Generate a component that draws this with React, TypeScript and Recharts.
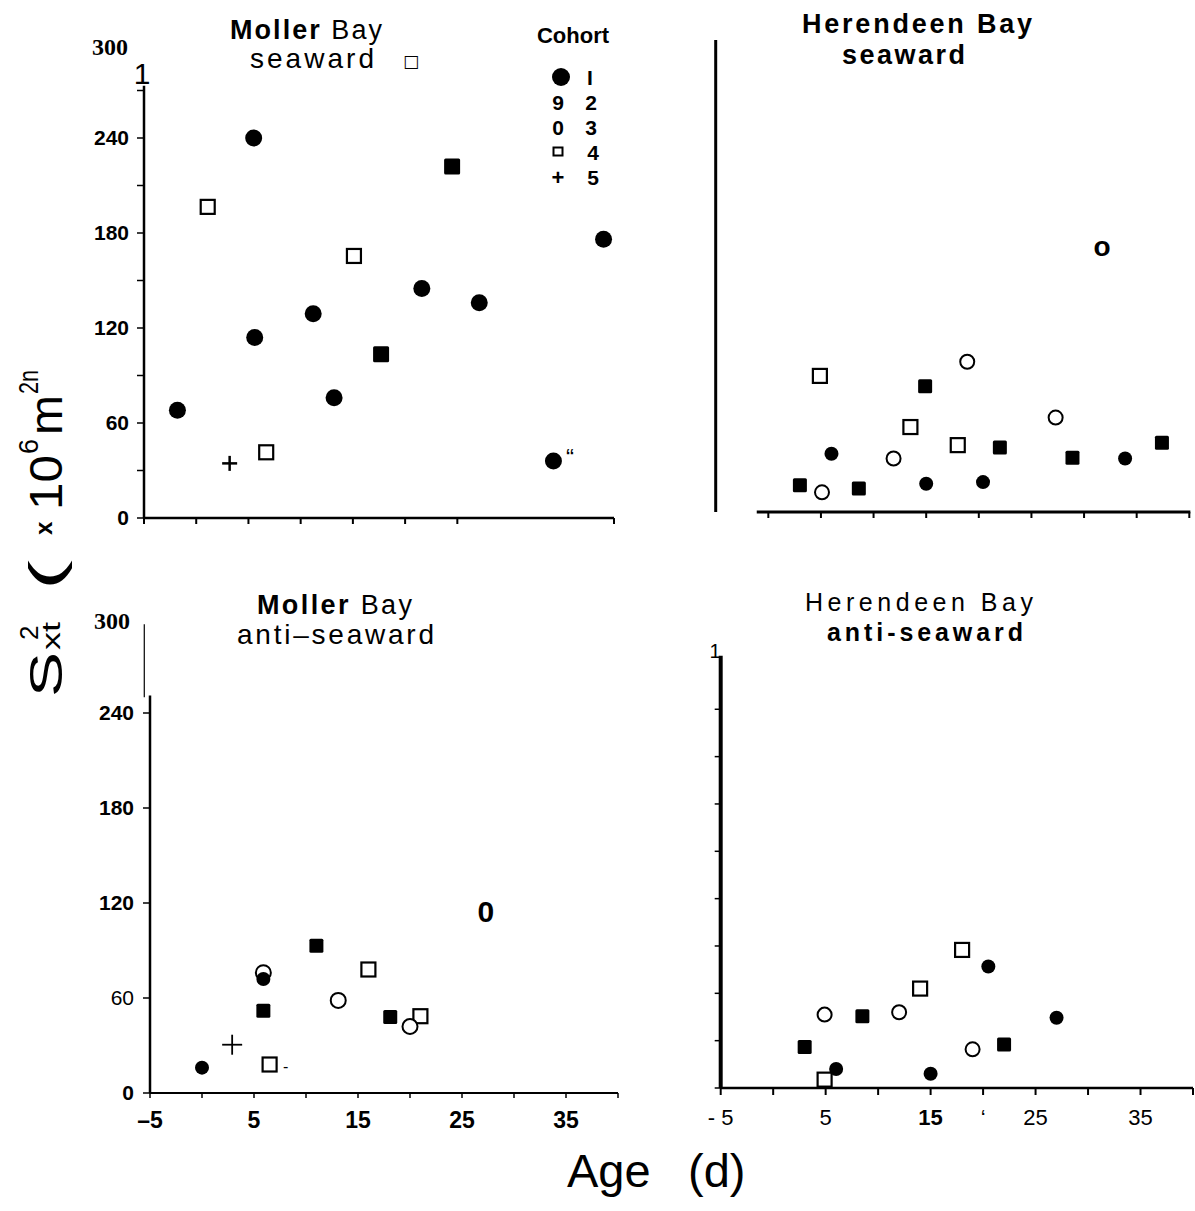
// App.tsx – variance of larval dispersal vs age, four bay panels

import { ScatterChart, Scatter, XAxis, YAxis, ReferenceLine } from "recharts"

type Pt = { x: number; y: number }

const SANS = "'Liberation Sans', Arial, sans-serif"
const SERIF = "'Liberation Serif', 'Times New Roman', serif"

// Age ticks (d) and variance ticks (x10^6 m^2)
const ageTicks = [-5, 0, 5, 10, 15, 20, 25, 30, 35, 40]
const ageTicksTopLeft = [-5, 0, 5, 10, 15, 20, 25, 40]
const ageTicksTopRight = [0, 5, 10, 15, 20, 25, 30, 35, 40]
const varTicksMinor = [0, 30, 60, 90, 120, 150, 180, 210, 240, 270]
const varTicksMajor = [0, 60, 120, 180, 240]
const varTicksRight = [0, 30, 60, 90, 120, 150, 180, 210, 240]
const ageLabelsLeft: Record<number, string> = { [-5]: "–5", 5: "5", 15: "15", 25: "25", 35: "35" }
const ageLabelsRight: Record<number, string> = { [-5]: "- 5", 5: "5", 15: "15", 20: "‘", 25: "25", 35: "35" }

// Moller Bay seaward (cohort 1 = filled circle, 2 = filled square, 3 = open circle, 4 = open square, 5 = cross)
const mollerSeaC1: Pt[] = [
  { x: -1.8, y: 68 }, { x: 5.5, y: 240 }, { x: 5.6, y: 114 }, { x: 11.2, y: 129 },
  { x: 13.2, y: 76 }, { x: 21.6, y: 145 }, { x: 27.1, y: 136 }, { x: 34.2, y: 36 },
  { x: 39.0, y: 176 },
]
const mollerSeaC2: Pt[] = [{ x: 17.7, y: 103.5 }, { x: 24.5, y: 222 }]
const mollerSeaC4: Pt[] = [{ x: 1.1, y: 196.5 }, { x: 6.7, y: 41.5 }, { x: 15.1, y: 165.5 }]
const mollerSeaC5: Pt[] = [{ x: 3.2, y: 34.5 }]

// Herendeen Bay seaward
const herSeaC1: Pt[] = [{ x: 6.0, y: 37 }, { x: 15.0, y: 18 }, { x: 20.4, y: 19 }, { x: 33.9, y: 34 }]
const herSeaC2: Pt[] = [
  { x: 3.0, y: 17 }, { x: 8.6, y: 15 }, { x: 14.9, y: 80 },
  { x: 22.0, y: 41 }, { x: 28.9, y: 34.5 }, { x: 37.4, y: 44 },
]
const herSeaC3: Pt[] = [{ x: 5.1, y: 12.5 }, { x: 11.9, y: 34 }, { x: 18.9, y: 95.5 }, { x: 27.3, y: 60 }]
const herSeaC3Bold: Pt[] = [{ x: 31.7, y: 169 }]
const herSeaC4: Pt[] = [{ x: 4.9, y: 86.5 }, { x: 13.5, y: 54 }, { x: 18.0, y: 42.5 }]

// Moller Bay anti-seaward
const mollerAntiC1: Pt[] = [{ x: 0, y: 16 }, { x: 5.9, y: 72 }]
const mollerAntiC2: Pt[] = [{ x: 5.9, y: 52 }, { x: 11.0, y: 93 }, { x: 18.1, y: 48 }]
const mollerAntiC3: Pt[] = [{ x: 5.9, y: 76 }, { x: 13.1, y: 58.5 }, { x: 20.0, y: 42 }]
const mollerAntiC3Bold: Pt[] = [{ x: 27.3, y: 115 }]
const mollerAntiC4: Pt[] = [{ x: 6.5, y: 18 }, { x: 16.0, y: 78 }, { x: 21.0, y: 48.5 }]
const mollerAntiC5: Pt[] = [{ x: 2.9, y: 30.5 }]

// Herendeen Bay anti-seaward
const herAntiC1: Pt[] = [{ x: 6.0, y: 12 }, { x: 15.0, y: 9 }, { x: 20.5, y: 77 }, { x: 27.0, y: 44.5 }]
const herAntiC2: Pt[] = [{ x: 3.0, y: 26 }, { x: 8.5, y: 45.5 }, { x: 22.0, y: 27.5 }]
const herAntiC3: Pt[] = [{ x: 4.9, y: 46.5 }, { x: 12.0, y: 48 }, { x: 19.0, y: 24.5 }]
const herAntiC4: Pt[] = [{ x: 4.9, y: 5.3 }, { x: 14.0, y: 63 }, { x: 18.0, y: 87.5 }]

// marker shapes
const dot = (r: number) => (p: any) => <circle cx={p.cx} cy={p.cy} r={r} fill="#000" />
const block = (s: number) => (p: any) => (
  <rect x={p.cx - s / 2} y={p.cy - s / 2} width={s} height={s} rx={1.5} fill="#000" />
)
const ring = (r: number) => (p: any) => (
  <circle cx={p.cx} cy={p.cy} r={r} fill="#fff" stroke="#000" strokeWidth={2} />
)
const box = (s: number) => (p: any) => (
  <rect x={p.cx - s / 2} y={p.cy - s / 2} width={s} height={s} fill="#fff" stroke="#000" strokeWidth={2.2} />
)
const cross = (s: number, w: number) => (p: any) => (
  <g stroke="#000" strokeWidth={w}>
    <line x1={p.cx - s / 2} y1={p.cy} x2={p.cx + s / 2} y2={p.cy} />
    <line x1={p.cx} y1={p.cy - s / 2} x2={p.cx} y2={p.cy + s / 2} />
  </g>
)
const glyph = (ch: string, size: number) => (p: any) => (
  <text x={p.cx} y={p.cy} dy="0.36em" textAnchor="middle" fontSize={size} fontWeight="bold" fontFamily={SANS}>
    {ch}
  </text>
)

// tick label renderers
const noLabel = () => <g />

const yLabel = (shown: number[], dy: number, light: number[] = []) => (props: any) => {
  const { x, y, payload } = props
  if (!shown.includes(payload.value)) return <g />
  return (
    <text x={x} y={y} dy={dy} textAnchor="end" fontSize={21} fontFamily={SANS}
      fontWeight={light.includes(payload.value) ? "normal" : "bold"} fill="#000">
      {payload.value}
    </text>
  )
}

const xLabel = (labels: Record<number, string>, dy: number, bold: number[], size: number) => (props: any) => {
  const { x, y, payload } = props
  const txt = labels[payload.value]
  if (!txt) return <g />
  return (
    <text x={x} y={y} dy={dy} textAnchor="middle" fontSize={size} fontFamily={SANS}
      fontWeight={bold.includes(payload.value) ? "bold" : "normal"} fill="#000">
      {txt}
    </text>
  )
}

const blackLine = { stroke: "#000", strokeWidth: 2 }

// position of a piece of the rotated y title: u along the text, v across it
const yt = (u: number, v: number) => `translate(${62 + v},${698 - u}) rotate(-90)`

export default function App() {
  return (
    <div style={{ position: "absolute", left: 0, top: 0, width: 1195, height: 1211, background: "#fff", overflow: "hidden" }}>
      {/* Moller Bay seaward */}
      <div style={{ position: "absolute", left: 0, top: 0 }}>
        <ScatterChart width={640} height={560} margin={{ top: 43, right: 26, bottom: 0, left: 0 }}>
          <XAxis type="number" dataKey="x" domain={[-5, 40]} ticks={ageTicksTopLeft} interval={0}
            tick={noLabel} tickSize={6} height={42} axisLine={{ stroke: "#000", strokeWidth: 2.5 }} tickLine={blackLine} />
          <YAxis type="number" dataKey="y" domain={[0, 300]} ticks={varTicksMinor} interval={0} width={144}
            tickSize={7} tickMargin={8} axisLine={false} tickLine={{ stroke: "#000", strokeWidth: 1.5 }}
            tick={yLabel(varTicksMajor, 7)} />
          <ReferenceLine segment={[{ x: -5, y: 0 }, { x: -5, y: 273 }]} stroke="#000" strokeWidth={2.5} ifOverflow="visible" />
          <Scatter data={mollerSeaC4} shape={box(14)} isAnimationActive={false} />
          <Scatter data={mollerSeaC1} shape={dot(8.5)} isAnimationActive={false} />
          <Scatter data={mollerSeaC2} shape={block(16)} isAnimationActive={false} />
          <Scatter data={mollerSeaC5} shape={cross(15, 2.5)} isAnimationActive={false} />
        </ScatterChart>
      </div>

      {/* Herendeen Bay seaward */}
      <div style={{ position: "absolute", left: 640, top: 0 }}>
        <ScatterChart width={555} height={560} margin={{ top: 40, right: 5.7, bottom: 0, left: 0 }}>
          <XAxis type="number" dataKey="x" domain={[-5, 40]} ticks={ageTicksTopRight} interval={0}
            tick={noLabel} tickSize={6} height={48} axisLine={false} tickLine={blackLine} />
          <YAxis type="number" dataKey="y" domain={[0, 300]} width={75.7} tick={noLabel} tickLine={false} axisLine={false} />
          <ReferenceLine segment={[{ x: -1.1, y: 0 }, { x: 40.1, y: 0 }]} stroke="#000" strokeWidth={3} ifOverflow="visible" />
          <ReferenceLine segment={[{ x: -5, y: 0 }, { x: -5, y: 300 }]} stroke="#000" strokeWidth={3} ifOverflow="visible" />
          <Scatter data={herSeaC4} shape={box(14)} isAnimationActive={false} />
          <Scatter data={herSeaC3} shape={ring(7)} isAnimationActive={false} />
          <Scatter data={herSeaC3Bold} shape={glyph("o", 28)} isAnimationActive={false} />
          <Scatter data={herSeaC2} shape={block(14)} isAnimationActive={false} />
          <Scatter data={herSeaC1} shape={dot(7)} isAnimationActive={false} />
        </ScatterChart>
      </div>

      {/* Moller Bay anti-seaward */}
      <div style={{ position: "absolute", left: 0, top: 560 }}>
        <ScatterChart width={640} height={600} margin={{ top: 58, right: 22, bottom: 0, left: 0 }}>
          <XAxis type="number" dataKey="x" domain={[-5, 40]} ticks={ageTicks} interval={0}
            tickSize={5} height={67} axisLine={{ stroke: "#000", strokeWidth: 2 }} tickLine={{ stroke: "#000", strokeWidth: 1.5 }}
            tick={xLabel(ageLabelsLeft, 28, [-5, 5, 15, 25, 35], 23)} />
          <YAxis type="number" dataKey="y" domain={[0, 300]} ticks={varTicksMajor} interval={0} width={150}
            tickSize={7} tickMargin={9} axisLine={false} tickLine={{ stroke: "#000", strokeWidth: 1.5 }}
            tick={yLabel(varTicksMajor, 7, [60])} />
          <ReferenceLine segment={[{ x: -5, y: 0 }, { x: -5, y: 251 }]} stroke="#000" strokeWidth={2.5} ifOverflow="visible" />
          <ReferenceLine segment={[{ x: -5.55, y: 250 }, { x: -5.55, y: 296 }]} stroke="#000" strokeWidth={1.2} ifOverflow="visible" />
          <Scatter data={mollerAntiC4} shape={box(14)} isAnimationActive={false} />
          <Scatter data={mollerAntiC3} shape={ring(7.5)} isAnimationActive={false} />
          <Scatter data={mollerAntiC3Bold} shape={glyph("0", 30)} isAnimationActive={false} />
          <Scatter data={mollerAntiC2} shape={block(14)} isAnimationActive={false} />
          <Scatter data={mollerAntiC1} shape={dot(7)} isAnimationActive={false} />
          <Scatter data={mollerAntiC5} shape={cross(20, 1.8)} isAnimationActive={false} />
        </ScatterChart>
      </div>

      {/* Herendeen Bay anti-seaward */}
      <div style={{ position: "absolute", left: 640, top: 560 }}>
        <ScatterChart width={555} height={600} margin={{ top: 54.6, right: 2, bottom: 0, left: 0 }}>
          <XAxis type="number" dataKey="x" domain={[-5, 40]} ticks={ageTicks} interval={0}
            tickSize={7} height={72} axisLine={{ stroke: "#000", strokeWidth: 2.5 }} tickLine={blackLine}
            tick={xLabel(ageLabelsRight, 28, [15], 22)} />
          <YAxis type="number" dataKey="y" domain={[0, 300]} ticks={varTicksRight} interval={0} width={80.7}
            tickSize={6} tick={noLabel} axisLine={false} tickLine={{ stroke: "#000", strokeWidth: 1.5 }} />
          <ReferenceLine segment={[{ x: -5, y: 0 }, { x: -5, y: 274 }]} stroke="#000" strokeWidth={4} ifOverflow="visible" />
          <Scatter data={herAntiC4} shape={box(14)} isAnimationActive={false} />
          <Scatter data={herAntiC3} shape={ring(7)} isAnimationActive={false} />
          <Scatter data={herAntiC2} shape={block(14)} isAnimationActive={false} />
          <Scatter data={herAntiC1} shape={dot(7)} isAnimationActive={false} />
        </ScatterChart>
      </div>

      {/* titles, legend and axis titles */}
      <svg width={1195} height={1211} style={{ position: "absolute", left: 0, top: 0, pointerEvents: "none" }}
        fontFamily={SANS} fill="#000">
        {/* top left */}
        <text x={230} y={39} fontSize={27} textLength={152} lengthAdjust="spacing">
          <tspan fontWeight="bold">Moller</tspan> Bay
        </text>
        <text x={250} y={68} fontSize={28} textLength={124} lengthAdjust="spacing">seaward</text>
        <text x={411} y={67} fontSize={17} textAnchor="middle" fontFamily="'DejaVu Sans', sans-serif">□</text>
        <text x={128} y={55} fontSize={24} fontWeight="bold" textAnchor="end" fontFamily={SERIF}>300</text>
        <text x={142} y={84} fontSize={30} fontWeight={300} textAnchor="middle">1</text>
        <text x={566} y={466} fontSize={24}>“</text>

        {/* cohort legend */}
        <text x={573} y={43} fontSize={22} fontWeight="bold" textAnchor="middle">Cohort</text>
        <circle cx={561} cy={77} r={9} />
        <text x={590} y={85} fontSize={21} fontWeight="bold" textAnchor="middle">I</text>
        <text x={558} y={110} fontSize={21} fontWeight="bold" textAnchor="middle">9</text>
        <text x={591} y={110} fontSize={21} fontWeight="bold" textAnchor="middle">2</text>
        <text x={558} y={135} fontSize={21} fontWeight="bold" textAnchor="middle">0</text>
        <text x={591} y={135} fontSize={21} fontWeight="bold" textAnchor="middle">3</text>
        <rect x={553.5} y={147.5} width={9} height={8} fill="#fff" stroke="#000" strokeWidth={2} />
        <text x={593} y={160} fontSize={21} fontWeight="bold" textAnchor="middle">4</text>
        <text x={558} y={185} fontSize={22} fontWeight="bold" textAnchor="middle">+</text>
        <text x={593} y={185} fontSize={21} fontWeight="bold" textAnchor="middle">5</text>

        {/* top right */}
        <text x={802} y={33} fontSize={27} fontWeight="bold" textLength={230} lengthAdjust="spacing">Herendeen Bay</text>
        <text x={842} y={64} fontSize={27} fontWeight="bold" textLength={123} lengthAdjust="spacing">seaward</text>

        {/* bottom left */}
        <text x={257} y={614} fontSize={27} textLength={155} lengthAdjust="spacing">
          <tspan fontWeight="bold">Moller</tspan> Bay
        </text>
        <text x={237} y={644} fontSize={28} textLength={197} lengthAdjust="spacing">anti–seaward</text>
        <text x={130} y={629} fontSize={24} fontWeight="bold" textAnchor="end" fontFamily={SERIF}>300</text>
        <text x={283} y={1072} fontSize={16}>-</text>

        {/* bottom right */}
        <text x={805} y={611} fontSize={25} textLength={228} lengthAdjust="spacing">Herendeen Bay</text>
        <text x={827} y={641} fontSize={25} fontWeight="bold" textLength={196} lengthAdjust="spacing">anti-seaward</text>
        <text x={715} y={658} fontSize={20} textAnchor="middle">1</text>

        {/* y axis title, S_xt^2 (x10^6 m^2n), laid out piece by piece */}
        <text transform={yt(1, 0)} fontSize={46} textLength={45} lengthAdjust="spacingAndGlyphs">S</text>
        <text transform={yt(48, -2)} fontSize={26} textLength={28} lengthAdjust="spacingAndGlyphs">xt</text>
        <text transform={yt(58, -24)} fontSize={26}>2</text>
        <text transform={yt(108, 0)} fontSize={46} textLength={30} lengthAdjust="spacingAndGlyphs">(</text>
        <text transform={yt(163, -10)} fontSize={24} fontWeight="bold">x</text>
        <text transform={yt(188, 0)} fontSize={46} textLength={55} lengthAdjust="spacingAndGlyphs">10</text>
        <text transform={yt(244, -24)} fontSize={27}>6</text>
        <text transform={yt(263, 0)} fontSize={46} textLength={40} lengthAdjust="spacingAndGlyphs">m</text>
        <text transform={yt(304, -24)} fontSize={27} textLength={24} lengthAdjust="spacingAndGlyphs">2n</text>

        {/* x axis title */}
        <text x={567} y={1187} fontSize={47}>Age</text>
        <text x={688} y={1187} fontSize={47}>(d)</text>
      </svg>
    </div>
  )
}
